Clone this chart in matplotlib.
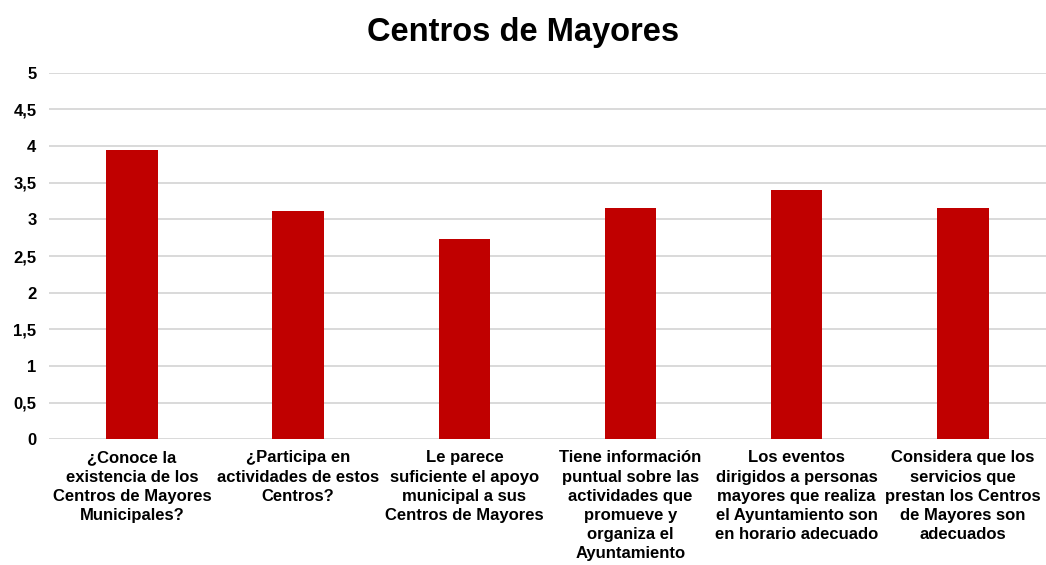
import matplotlib
matplotlib.use("Agg")
import matplotlib.pyplot as plt

title = "Centros de Mayores"
categories = [
    "¿Conoce la\nexistencia de los\nCentros de Mayores\nMunicipales?",
    "¿Participa en\nactividades de estos\nCentros?",
    "Le parece\nsuficiente el apoyo\nmunicipal a sus\nCentros de Mayores",
    "Tiene información\npuntual sobre las\nactividades que\npromueve y\norganiza el\nAyuntamiento",
    "Los eventos\ndirigidos a personas\nmayores que realiza\nel Ayuntamiento son\nen horario adecuado",
    "Considera que los\nservicios que\nprestan los Centros\nde Mayores son\nadecuados",
]
values = [3.94, 3.11, 2.73, 3.15, 3.40, 3.15]
yticks = [0, 0.5, 1, 1.5, 2, 2.5, 3, 3.5, 4, 4.5, 5]
ytick_labels = ["0", "0,5", "1", "1,5", "2", "2,5", "3", "3,5", "4", "4,5", "5"]

plt.rcParams['font.family'] = ['Liberation Sans', 'DejaVu Sans']

fig = plt.figure(figsize=(10.46, 5.65), dpi=100)
ax = fig.add_axes([0.0468, 0.2225, 0.9532, 0.6488])

x = list(range(len(categories)))
ax.bar(x, values, width=0.31, color="#c00000", zorder=3)
ax.set_xlim(-0.5, len(categories) - 0.5)
ax.set_ylim(0, 5)
ax.set_yticks(yticks)
ax.set_yticklabels(ytick_labels, fontsize=12, fontweight='bold')
ax.set_xticks(x)
ax.set_xticklabels(categories, fontsize=12, fontweight='bold', linespacing=1.35)
ax.tick_params(axis='both', length=0, colors='black')
ax.tick_params(axis='y', pad=9)
ax.tick_params(axis='x', pad=8)
ax.grid(axis='y', color='#d9d9d9', linewidth=1.4, zorder=0)
for s in ax.spines.values():
    s.set_visible(False)

fig.text(0.5, 0.942, title, ha='center', va='center', fontsize=23.5, fontweight='bold')

fig.savefig("out.png", dpi=100, facecolor='white')
